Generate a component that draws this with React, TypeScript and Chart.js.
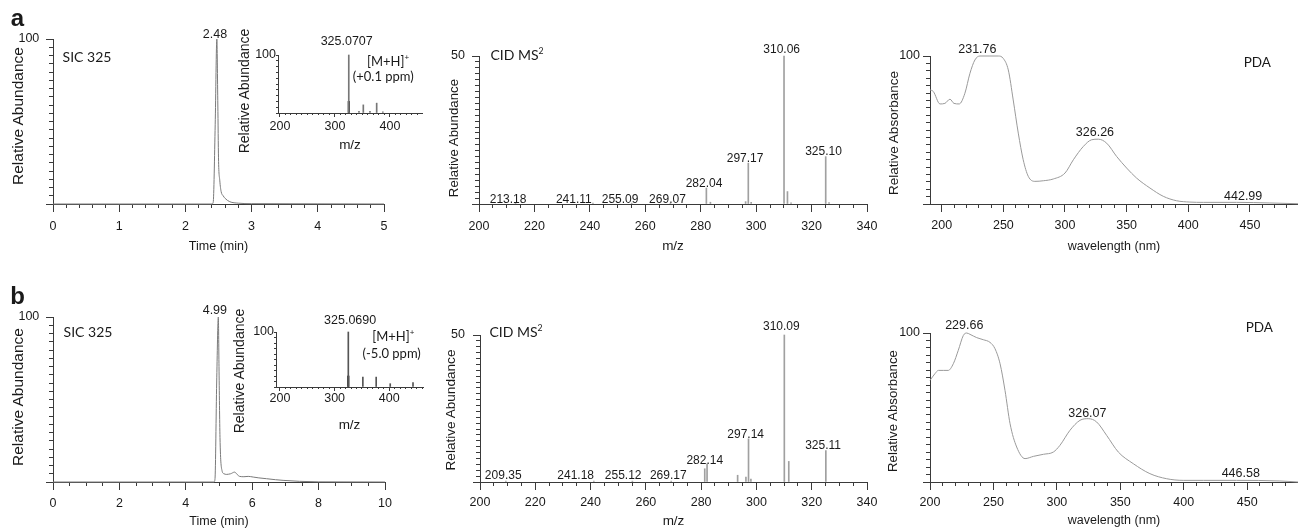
import React, { useEffect, useRef } from 'react';
import { Chart, registerables } from 'chart.js';
Chart.register(...registerables);

const FONT = "'Liberation Sans', Arial, sans-serif";
const LFONT = "Lato, 'Open Sans', sans-serif";
const TEXT = '#1a1a1a';
const AXIS = '#3a3a3a';

// ---------- panel a : SIC chromatogram ----------
const A_SIC_TIME = [0, 1.0, 2.0, 2.40, 2.42, 2.45, 2.475, 2.49, 2.50, 2.52, 2.54, 2.57, 2.60, 2.67, 2.80, 3.00, 4.00, 5.00];
const A_SIC_ABUND = [0, 0, 0, 0, 1, 48, 100, 60, 28, 14, 7.5, 5, 3.4, 1.4, 0.5, 0.2, 0.1, 0];
const A_SIC_LABELS = ['2.48'];
const A_SIC_LABEL_X = [2.447];
const A_SIC_LABEL_Y = [100.8];

// ---------- panel b : SIC chromatogram ----------
const B_SIC_TIME = [0, 2, 4, 4.85, 4.88, 4.93, 4.98, 5.00, 5.03, 5.09, 5.15, 5.22, 5.35, 5.47, 5.55, 5.62, 5.75, 5.88, 6.03, 6.20, 6.43, 6.70, 6.93, 7.43, 8.00, 10.00];
const B_SIC_ABUND = [0, 0, 0, 0, 2, 60, 100, 70, 27, 7, 5, 4.6, 5, 6, 4.5, 3.4, 3.2, 3.4, 3, 2.5, 2, 1.4, 1, 0.4, 0.1, 0];
const B_SIC_LABELS = ['4.99'];
const B_SIC_LABEL_X = [4.875];
const B_SIC_LABEL_Y = [101.6];

// ---------- insets : full MS ----------
const A_MS1_MZ = [325.07, 343.6, 351.5, 363.6, 375.8, 387.0];
const A_MS1_AB = [100, 3, 14, 3, 17, 2];
const A_MS1_CORE_MZ = [325.07];
const A_MS1_CORE_AB = [20];
const A_MS1_LABELS = ['325.0707'];
const A_MS1_LABEL_X = [321.3];
const A_MS1_LABEL_Y = [117];

const B_MS1_MZ = [325.07, 351.7, 376.1, 401.8, 443.5];
const B_MS1_AB = [100, 18, 18, 6, 8];
const B_MS1_CORE_MZ = [325.07];
const B_MS1_CORE_AB = [20];
const B_MS1_LABELS = ['325.0690'];
const B_MS1_LABEL_X = [328.4];
const B_MS1_LABEL_Y = [114.5];

// ---------- CID MS2 ----------
const A_MS2_MZ = [213.18, 241.11, 255.09, 269.07, 282.04, 283.5, 296.2, 297.17, 298.2, 310.06, 311.3, 312.6, 325.10, 326.3];
const A_MS2_AB = [0.4, 0.3, 0.3, 0.3, 5.4, 0.6, 0.8, 13.8, 0.6, 50, 4.2, 0.4, 16.0, 0.5];
const A_MS2_LABELS = ['213.18', '241.11', '255.09', '269.07', '282.04', '297.17', '310.06', '325.10'];
const A_MS2_LABEL_X = [210.5, 234.2, 250.9, 268.0, 281.2, 296.0, 309.2, 324.3];
const A_MS2_LABEL_Y = [0.5, 0.5, 0.5, 0.5, 5.9, 14.2, 51.1, 16.6];

const B_MS2_MZ = [209.35, 241.18, 255.12, 269.17, 281.3, 282.14, 293.2, 296.2, 297.14, 298.0, 310.09, 311.7, 325.11];
const B_MS2_AB = [0.3, 0.3, 0.3, 0.3, 4.5, 6.2, 2.3, 1.7, 14.7, 1.0, 50, 7.0, 10.7];
const B_MS2_LABELS = ['209.35', '241.18', '255.12', '269.17', '282.14', '297.14', '310.09', '325.11'];
const B_MS2_LABEL_X = [208.4, 234.6, 251.8, 268.1, 281.3, 296.1, 309.0, 324.1];
const B_MS2_LABEL_Y = [1.0, 1.0, 1.0, 1.0, 6.2, 15.0, 51.6, 11.3];

// ---------- PDA ----------
const A_PDA_WL = [190.5, 193.2, 198.6, 202.6, 206.7, 209.9, 214.2, 218.8, 222.9, 226.9, 231.0, 239.1, 245.9, 249.9, 254.0, 258.0, 262.1, 266.1, 270.2, 275.6, 282.4, 290.5, 300.0, 306.8, 314.9, 321.6, 327.0, 333.8, 341.9, 350.0, 358.1, 368.9, 379.7, 390.5, 401.3, 412.2, 439.2, 466.2, 489.0];
const A_PDA_ABS = [77.1, 76.0, 67.6, 68.0, 70.8, 68.0, 67.6, 74.8, 88.3, 97.3, 100, 100, 100, 98.4, 90.6, 70.3, 47.9, 29.9, 18.7, 15.3, 15.7, 16.9, 20.9, 29.9, 38.9, 43.4, 43.8, 41.1, 32.1, 24.3, 17.5, 10.8, 5.2, 2.2, 1.3, 1.1, 1.1, 0.7, 0.2];
const A_PDA_LABELS = ['231.76', '326.26', '442.99'];
const A_PDA_LABEL_X = [228.9, 324.3, 444.5];
const A_PDA_LABEL_Y = [102.2, 46.1, 2.9];

const B_PDA_WL = [200.0, 203.9, 206.6, 210.5, 214.4, 218.4, 222.3, 226.3, 228.9, 231.5, 236.8, 242.0, 247.3, 251.2, 255.2, 259.1, 263.1, 268.3, 274.9, 281.5, 289.4, 297.2, 302.4, 310.3, 318.2, 324.8, 331.3, 339.2, 348.4, 360.2, 373.3, 386.5, 399.6, 415.4, 441.6, 475.8, 490.0];
const B_PDA_ABS = [68.2, 72.7, 74.9, 74.9, 74.9, 79.4, 88.4, 98.4, 100, 99.1, 96.9, 95.5, 93.7, 89.5, 79.4, 61.5, 39.1, 23.5, 15.7, 17.2, 18.6, 20.1, 24.6, 34.7, 41.4, 42.5, 40.3, 31.3, 20.1, 12.3, 5.6, 2.2, 1.1, 1.1, 1.1, 0.7, 0.0];
const B_PDA_LABELS = ['229.66', '326.07', '446.58'];
const B_PDA_LABEL_X = [227.0, 324.0, 444.9];
const B_PDA_LABEL_Y = [102.4, 43.6, 3.4];

// ---------- tick values / labels ----------
const A_SIC_X_TICKS = [0, 1, 2, 3, 4, 5];
const A_SIC_X_LABELS = ['0', '1', '2', '3', '4', '5'];
const B_SIC_X_TICKS = [0, 2, 4, 6, 8, 10];
const B_SIC_X_LABELS = ['0', '2', '4', '6', '8', '10'];
const MS2_X_TICKS = [200, 220, 240, 260, 280, 300, 320, 340];
const MS2_X_LABELS = ['200', '220', '240', '260', '280', '300', '320', '340'];
const PDA_X_TICKS = [200, 250, 300, 350, 400, 450];
const PDA_X_LABELS = ['200', '250', '300', '350', '400', '450'];
const MS1_X_TICKS = [200, 300, 400];
const MS1_X_LABELS = ['200', '300', '400'];
const Y100_TICKS = [0, 100];
const Y100_LABELS = ['', '100'];
const Y50_TICKS = [0, 50];
const Y50_LABELS = ['', '50'];

type Rect = { x: number; y: number; w: number; h: number };
type Area = { l: number; t: number; r: number; b: number };
type Geo = { yw: number; xh: number; pt: number; pr: number };
type AxisSpec = {
  min: number; max: number; major: number[]; labels: string[]; minorStep: number;
  tickLen: number; minorLen: number; pad: number; font: number;
  title?: string; titleFont?: number; titlePad?: number;
};

function minorTicks(min: number, max: number, step: number) {
  const out: { value: number }[] = [];
  const k0 = Math.ceil(min / step - 1e-6);
  const k1 = Math.floor(max / step + 1e-6);
  for (let k = k0; k <= k1; k++) out.push({ value: +(k * step).toFixed(6) });
  return out;
}

function axisPair(id: string, pos: 'bottom' | 'left', s: AxisSpec, size: number) {
  const horizontal = pos === 'bottom';
  const main: any = {
    type: 'linear', position: pos, min: s.min, max: s.max, offset: false, weight: 0,
    afterBuildTicks: (sc: any) => { sc.ticks = s.major.map((v) => ({ value: v })); },
    afterFit: (sc: any) => { if (horizontal) sc.height = size; else sc.width = size; },
    ticks: {
      autoSkip: false, maxRotation: 0, minRotation: 0, padding: s.pad, color: TEXT,
      font: { family: FONT, size: s.font, lineHeight: 1.2 },
      callback: (_v: any, i: number) => s.labels[i] ?? '',
    },
    grid: { display: true, drawOnChartArea: false, drawTicks: true, tickLength: s.tickLen, color: AXIS, tickColor: AXIS, tickWidth: 1, offset: false },
    border: { display: true, color: AXIS, width: 1 },
    title: s.title
      ? { display: true, text: s.title, color: TEXT, font: { family: FONT, size: s.titleFont, lineHeight: 1 }, padding: { top: 0, bottom: s.titlePad } }
      : { display: false },
  };
  const minor: any = {
    type: 'linear', position: pos, min: s.min, max: s.max, offset: false, weight: -1,
    afterBuildTicks: (sc: any) => { sc.ticks = minorTicks(s.min, s.max, s.minorStep); },
    afterFit: (sc: any) => { if (horizontal) sc.height = 0; else sc.width = 0; },
    ticks: { display: false },
    grid: { display: true, drawOnChartArea: false, drawTicks: true, tickLength: s.minorLen, color: AXIS, tickColor: AXIS, tickWidth: 1, offset: false },
    border: { display: false },
    title: { display: false },
  };
  return { [id]: main, [id + 'Minor']: minor };
}

function textPlugin(texts: string[], xs: number[], ys: number[], size: number) {
  return {
    id: 'peakText',
    afterDatasetsDraw(chart: any) {
      const { ctx } = chart;
      const sx = chart.scales.x;
      const sy = chart.scales.y;
      ctx.save();
      ctx.font = `${size}px ${FONT}`;
      ctx.fillStyle = TEXT;
      ctx.textAlign = 'center';
      ctx.textBaseline = 'alphabetic';
      texts.forEach((t, i) => ctx.fillText(t, sx.getPixelForValue(xs[i]), sy.getPixelForValue(ys[i])));
      ctx.restore();
    },
  };
}

function options(geo: Geo, x: AxisSpec, y: AxisSpec) {
  return {
    responsive: false,
    animation: false,
    events: [],
    layout: { padding: { left: 0, top: geo.pt, right: geo.pr, bottom: 0 } },
    plugins: { legend: { display: false }, tooltip: { enabled: false }, title: { display: false } },
    scales: { ...axisPair('x', 'bottom', x, geo.xh), ...axisPair('y', 'left', y, geo.yw) },
  };
}

const pts = (xs: number[], ys: number[]) => xs.map((v, i) => ({ x: v, y: ys[i] }));

function lineConfig(geo: Geo, x: AxisSpec, y: AxisSpec, xs: number[], ys: number[], color: string, lab: [string[], number[], number[]]) {
  return {
    type: 'line',
    data: {
      datasets: [{
        data: pts(xs, ys), borderColor: color, borderWidth: 1, pointRadius: 0, fill: false,
        cubicInterpolationMode: 'monotone', clip: 3,
      }],
    },
    options: options(geo, x, y),
    plugins: [textPlugin(lab[0], lab[1], lab[2], 12.5)],
  };
}

function barConfig(geo: Geo, x: AxisSpec, y: AxisSpec, sets: { xs: number[]; ys: number[]; color: string; w: number }[], lab: [string[], number[], number[]], labSize: number) {
  return {
    type: 'bar',
    data: {
      datasets: sets.map((s) => ({
        data: pts(s.xs, s.ys), backgroundColor: s.color, borderWidth: 0, barThickness: s.w, grouped: false, clip: 3,
      })),
    },
    options: options(geo, x, y),
    plugins: [textPlugin(lab[0], lab[1], lab[2], labSize)],
  };
}

function ChartBox({ rect, area, make }: { rect: Rect; area: Area; make: (g: Geo) => any }) {
  const ref = useRef<HTMLCanvasElement>(null);
  useEffect(() => {
    const geo: Geo = { yw: area.l - rect.x, xh: rect.y + rect.h - area.b, pt: area.t - rect.y, pr: rect.x + rect.w - area.r };
    const chart = new Chart(ref.current as HTMLCanvasElement, make(geo));
    return () => chart.destroy();
  }, []);
  return (
    <canvas ref={ref} width={rect.w} height={rect.h}
      style={{ position: 'absolute', left: rect.x, top: rect.y, width: rect.w, height: rect.h }} />
  );
}

function Txt({ x, y, size, family = FONT, rotate = false, weight = 400, children }: any) {
  return (
    <div style={{
      position: 'absolute', left: x, top: y, fontFamily: family, fontSize: size, fontWeight: weight,
      lineHeight: 1, whiteSpace: 'nowrap', color: TEXT,
      transform: `translate(-50%, -50%)${rotate ? ' rotate(-90deg)' : ''}`,
    }}>{children}</div>
  );
}

const Sup = ({ children }: any) => (
  <sup style={{ fontSize: '0.62em', verticalAlign: 'super', lineHeight: 0 }}>{children}</sup>
);

// axis specs
const sicXA: AxisSpec = { min: 0, max: 5, major: A_SIC_X_TICKS, labels: A_SIC_X_LABELS, minorStep: 0.2, tickLen: 8, minorLen: 4, pad: 7.2, font: 12.5, title: 'Time (min)', titleFont: 12.5, titlePad: 11 };
const sicXB: AxisSpec = { min: 0, max: 10, major: B_SIC_X_TICKS, labels: B_SIC_X_LABELS, minorStep: 0.5, tickLen: 8, minorLen: 4, pad: 6.5, font: 12.5, title: 'Time (min)', titleFont: 12.5, titlePad: 0 };
const sicY: AxisSpec = { min: 0, max: 100, major: Y100_TICKS, labels: Y100_LABELS, minorStep: 5, tickLen: 7, minorLen: 4, pad: 6.7, font: 12.5 };

const ms2XA: AxisSpec = { min: 200, max: 340, major: MS2_X_TICKS, labels: MS2_X_LABELS, minorStep: 5, tickLen: 8, minorLen: 4, pad: 7.2, font: 12.5, title: 'm/z', titleFont: 13.5, titlePad: 11 };
const ms2XB: AxisSpec = { ...ms2XA, pad: 4.8, titlePad: 0 };
const ms2YA: AxisSpec = { min: 0, max: 50, major: Y50_TICKS, labels: Y50_LABELS, minorStep: 2, tickLen: 7, minorLen: 4, pad: 7, font: 12.5 };
const ms2YB: AxisSpec = { ...ms2YA, pad: 8 };

const pdaXA: AxisSpec = { min: 190.5, max: 489, major: PDA_X_TICKS, labels: PDA_X_LABELS, minorStep: 10, tickLen: 8, minorLen: 4, pad: 6.5, font: 12.5, title: 'wavelength (nm)', titleFont: 12.5, titlePad: 11 };
const pdaXB: AxisSpec = { ...pdaXA, min: 200, max: 490, pad: 4.8, titlePad: 1 };
const pdaY: AxisSpec = { min: 0, max: 100, major: Y100_TICKS, labels: Y100_LABELS, minorStep: 5, tickLen: 7, minorLen: 4, pad: 3, font: 12.5 };

const ms1XA: AxisSpec = { min: 196.4, max: 458.2, major: MS1_X_TICKS, labels: MS1_X_LABELS, minorStep: 10, tickLen: 4, minorLen: 2, pad: 2.2, font: 12.5, title: 'm/z', titleFont: 13.5, titlePad: 7.8 };
const ms1XB: AxisSpec = { ...ms1XA, min: 192.7, max: 461.8, pad: 0.5 };
const ms1Y: AxisSpec = { min: 0, max: 100, major: Y100_TICKS, labels: Y100_LABELS, minorStep: 10, tickLen: 2, minorLen: 2, pad: 0, font: 12.5 };

export default function App() {
  return (
    <div style={{ position: 'absolute', left: 0, top: 0, width: 1298, height: 528, overflow: 'hidden', background: '#fff' }}>
      {/* row a */}
      <ChartBox rect={{ x: 0, y: 0, w: 420, h: 264 }} area={{ l: 53, t: 39, r: 384, b: 204 }}
        make={(g) => lineConfig(g, sicXA, sicY, A_SIC_TIME, A_SIC_ABUND, '#7a7a7a', [A_SIC_LABELS, A_SIC_LABEL_X, A_SIC_LABEL_Y])} />
      <ChartBox rect={{ x: 250, y: 20, w: 180, h: 140 }} area={{ l: 278, t: 55, r: 422, b: 113 }}
        make={(g) => barConfig(g, ms1XA, ms1Y, [
          { xs: A_MS1_MZ, ys: A_MS1_AB, color: '#777777', w: 1 },
          { xs: A_MS1_CORE_MZ, ys: A_MS1_CORE_AB, color: '#111111', w: 1.5 },
        ], [A_MS1_LABELS, A_MS1_LABEL_X, A_MS1_LABEL_Y], 12.5)} />
      <ChartBox rect={{ x: 430, y: 0, w: 470, h: 264 }} area={{ l: 479, t: 56, r: 867, b: 204 }}
        make={(g) => barConfig(g, ms2XA, ms2YA, [{ xs: A_MS2_MZ, ys: A_MS2_AB, color: '#a0a0a0', w: 1 }],
          [A_MS2_LABELS, A_MS2_LABEL_X, A_MS2_LABEL_Y], 12)} />
      <ChartBox rect={{ x: 880, y: 0, w: 418, h: 264 }} area={{ l: 930, t: 56, r: 1298, b: 204 }}
        make={(g) => lineConfig(g, pdaXA, pdaY, A_PDA_WL, A_PDA_ABS, '#9a9a9a', [A_PDA_LABELS, A_PDA_LABEL_X, A_PDA_LABEL_Y])} />

      {/* row b */}
      <ChartBox rect={{ x: 0, y: 264, w: 420, h: 264 }} area={{ l: 53, t: 317, r: 385, b: 482 }}
        make={(g) => lineConfig(g, sicXB, sicY, B_SIC_TIME, B_SIC_ABUND, '#7a7a7a', [B_SIC_LABELS, B_SIC_LABEL_X, B_SIC_LABEL_Y])} />
      <ChartBox rect={{ x: 250, y: 295, w: 180, h: 145 }} area={{ l: 276, t: 332, r: 423, b: 387 }}
        make={(g) => barConfig(g, ms1XB, ms1Y, [
          { xs: B_MS1_MZ, ys: B_MS1_AB, color: '#555555', w: 1 },
          { xs: B_MS1_CORE_MZ, ys: B_MS1_CORE_AB, color: '#111111', w: 1.5 },
        ], [B_MS1_LABELS, B_MS1_LABEL_X, B_MS1_LABEL_Y], 12.5)} />
      <ChartBox rect={{ x: 430, y: 264, w: 470, h: 264 }} area={{ l: 480, t: 335, r: 867, b: 482 }}
        make={(g) => barConfig(g, ms2XB, ms2YB, [{ xs: B_MS2_MZ, ys: B_MS2_AB, color: '#a0a0a0', w: 1 }],
          [B_MS2_LABELS, B_MS2_LABEL_X, B_MS2_LABEL_Y], 12)} />
      <ChartBox rect={{ x: 880, y: 264, w: 418, h: 264 }} area={{ l: 930, t: 333, r: 1298, b: 482 }}
        make={(g) => lineConfig(g, pdaXB, pdaY, B_PDA_WL, B_PDA_ABS, '#9a9a9a', [B_PDA_LABELS, B_PDA_LABEL_X, B_PDA_LABEL_Y])} />

      {/* panel letters */}
      <Txt x={17.5} y={18.4} size={24} weight={700}>a</Txt>
      <Txt x={17.5} y={295.7} size={24} weight={700}>b</Txt>

      {/* y-axis titles */}
      <Txt x={18.3} y={116} size={15.5} rotate>Relative Abundance</Txt>
      <Txt x={18.3} y={397} size={15.5} rotate>Relative Abundance</Txt>
      <Txt x={244} y={90.5} size={14} rotate>Relative Abundance</Txt>
      <Txt x={239} y={370.7} size={14} rotate>Relative Abundance</Txt>
      <Txt x={454} y={137.5} size={13.3} rotate>Relative Abundance</Txt>
      <Txt x={451.3} y={409.8} size={13.6} rotate>Relative Abundance</Txt>
      <Txt x={893.5} y={132.5} size={13.5} rotate>Relative Absorbance</Txt>
      <Txt x={893} y={410.5} size={13.3} rotate>Relative Absorbance</Txt>

      {/* panel annotations */}
      <Txt x={87} y={57} size={14} family={LFONT}>SIC 325</Txt>
      <Txt x={88} y={332.3} size={14} family={LFONT}>SIC 325</Txt>
      <Txt x={517} y={55} size={14} family={LFONT}>CID MS<Sup>2</Sup></Txt>
      <Txt x={516} y={332.3} size={14} family={LFONT}>CID MS<Sup>2</Sup></Txt>
      <Txt x={1257.3} y={62.7} size={13.5} family={LFONT}>PDA</Txt>
      <Txt x={1259.3} y={328.3} size={13.5} family={LFONT}>PDA</Txt>
      <Txt x={388} y={61} size={13} family={LFONT}>[M+H]<Sup>+</Sup></Txt>
      <Txt x={383.3} y={76} size={13} family={LFONT}>(+0.1 ppm)</Txt>
      <Txt x={393.3} y={335.7} size={13} family={LFONT}>[M+H]<Sup>+</Sup></Txt>
      <Txt x={391.7} y={353} size={13} family={LFONT}>(-5.0 ppm)</Txt>
    </div>
  );
}
